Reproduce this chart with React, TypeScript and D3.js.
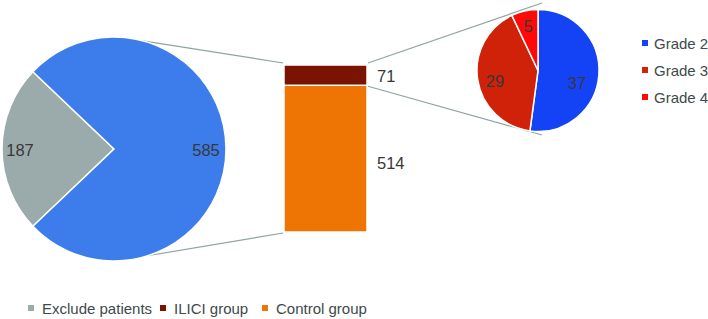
import React from "react";
import * as d3 from "d3";

const mainCategories = ["Exclude patients", "Included"];
const mainValues = [187, 585];
const mainColors = ["#9BAAAA", "#3D7CEB"];

const barCategories = ["ILICI group", "Control group"];
const barValues = [71, 514];
const barColors = ["#7A1300", "#EE7404"];

const gradeCategories = ["Grade 2", "Grade 3", "Grade 4"];
const gradeValues = [37, 29, 5];
const gradeColors = ["#1443F5", "#CF2208", "#FF0808"];

const legendBottom = ["Exclude patients", "ILICI group", "Control group"];
const legendBottomColors = ["#9BAAAA", "#7A1300", "#EE7404"];

const W = 708;
const H = 319;
const FONT = "'Liberation Sans', Arial, Helvetica, sans-serif";
const LINE = "#8FA3A3";
const TEXT = "#383838";
const LEG_TEXT = "#404a4a";

export default function App() {
  // main pie
  const c1 = { x: 114, y: 149 };
  const r1 = 112;
  const total1 = d3.sum(mainValues);
  const grayHalf = (mainValues[0] / total1) * Math.PI;
  const start1 = (3 * Math.PI) / 2 - grayHalf;
  const pie1 = d3
    .pie<number>()
    .sort(null)
    .startAngle(start1)
    .endAngle(start1 + 2 * Math.PI)(mainValues);
  const arc1 = d3.arc<d3.PieArcDatum<number>>().innerRadius(0).outerRadius(r1);

  // bar
  const barX0 = 284;
  const barX1 = 367;
  const y = d3.scaleLinear().domain([0, d3.sum(barValues)]).range([232, 65]);
  const stack = [
    { v: barValues[1], y0: 0, y1: barValues[1], color: barColors[1] },
    { v: barValues[0], y0: barValues[1], y1: barValues[1] + barValues[0], color: barColors[0] },
  ];

  // grade pie
  const c2 = { x: 538, y: 70.5 };
  const r2 = 61;
  const pie2 = d3.pie<number>().sort(null)(gradeValues);
  const arc2 = d3.arc<d3.PieArcDatum<number>>().innerRadius(0).outerRadius(r2);

  const pt = (c: { x: number; y: number }, r: number, deg: number) => {
    const a = (deg * Math.PI) / 180;
    return { x: c.x + r * Math.sin(a), y: c.y - r * Math.cos(a) };
  };
  const p1Top = pt(c1, r1, 15);
  const p1Bot = pt(c1, r1, 162);

  const mainLabelPos = [
    { x: 20, y: 150 },
    { x: 206, y: 150 },
  ];
  const gradeLabelPos = [
    { x: 577, y: 83 },
    { x: 495, y: 81 },
    { x: 528, y: 26 },
  ];

  const bottomLegendX = [31, 163, 265];

  return (
    <svg
      width={W}
      height={H}
      style={{ position: "absolute", left: 0, top: 0, background: "#fff" }}
      fontFamily={FONT}
    >
      <rect width={W} height={H} fill="#fff" />
      {/* connector lines */}
      <line x1={p1Top.x} y1={p1Top.y} x2={barX0 - 1} y2={y(d3.sum(barValues)) - 2} stroke={LINE} strokeWidth={1.2} />
      <line x1={p1Bot.x} y1={p1Bot.y} x2={barX0 - 1} y2={y(0) + 1} stroke={LINE} strokeWidth={1.2} />
      <line x1={barX1 + 1} y1={y(d3.sum(barValues)) - 2} x2={c2.x + 4} y2={3} stroke={LINE} strokeWidth={1.2} />
      <line x1={barX1 + 1} y1={y(barValues[1]) + 1} x2={c2.x + 4} y2={135} stroke={LINE} strokeWidth={1.2} />

      {/* main pie */}
      <g transform={`translate(${c1.x},${c1.y})`}>
        {pie1.map((d, i) => (
          <path key={i} d={arc1(d) || ""} fill={mainColors[i]} stroke="#fff" strokeWidth={1.5} />
        ))}
      </g>
      {mainValues.map((v, i) => (
        <text key={i} x={mainLabelPos[i].x} y={mainLabelPos[i].y} fontSize={16.5} fill={TEXT} textAnchor="middle" dominantBaseline="central">
          {v}
        </text>
      ))}

      {/* bar */}
      {stack.map((s, i) => (
        <rect
          key={i}
          x={barX0}
          y={y(s.y1)}
          width={barX1 - barX0}
          height={y(s.y0) - y(s.y1)}
          fill={s.color}
          stroke="#fff"
          strokeWidth={1.5}
        />
      ))}
      <text x={377} y={(y(barValues[1]) + y(d3.sum(barValues))) / 2 + 1} fontSize={16.5} fill={TEXT} dominantBaseline="central">
        {barValues[0]}
      </text>
      <text x={377} y={(y(0) + y(barValues[1])) / 2 + 4} fontSize={16.5} fill={TEXT} dominantBaseline="central">
        {barValues[1]}
      </text>

      {/* grade pie */}
      <g transform={`translate(${c2.x},${c2.y})`}>
        {pie2.map((d, i) => (
          <path key={i} d={arc2(d) || ""} fill={gradeColors[i]} stroke="#fff" strokeWidth={1.5} />
        ))}
      </g>
      {gradeValues.map((v, i) => (
        <text key={i} x={gradeLabelPos[i].x} y={gradeLabelPos[i].y} fontSize={16.5} fill={TEXT} textAnchor="middle" dominantBaseline="central">
          {v}
        </text>
      ))}

      {/* right legend */}
      {gradeCategories.map((g, i) => (
        <g key={g} transform={`translate(642,${43 + i * 27})`}>
          <rect x={0} y={-3} width={6} height={6} fill={gradeColors[i]} />
          <text x={12} y={0} fontSize={15} fill={LEG_TEXT} dominantBaseline="central">
            {g}
          </text>
        </g>
      ))}

      {/* bottom legend */}
      {legendBottom.map((g, i) => (
        <g key={g} transform={`translate(${bottomLegendX[i]},308)`}>
          <rect x={-3} y={-3} width={6} height={6} fill={legendBottomColors[i]} />
          <text x={11} y={0} fontSize={15} fill={LEG_TEXT} dominantBaseline="central">
            {g}
          </text>
        </g>
      ))}
    </svg>
  );
}
